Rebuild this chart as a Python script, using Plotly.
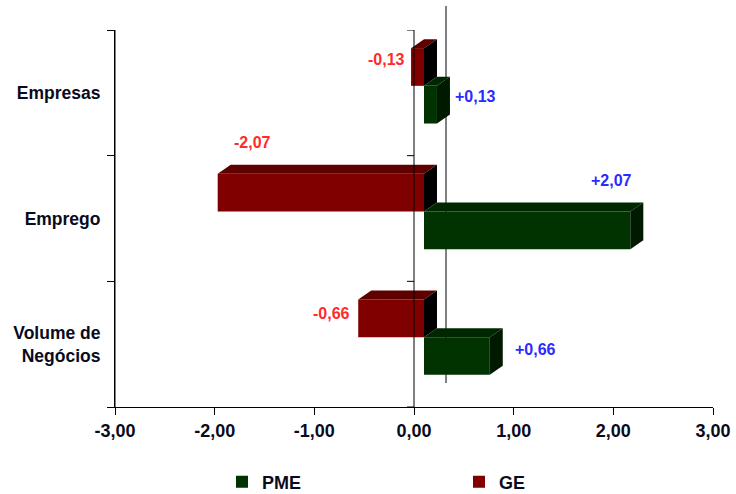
import plotly.graph_objects as go

# ---------------- data ----------------
categories = ["Empresas", "Emprego", "Volume de<br>Negócios"]
pme_values = [0.13, 2.07, 0.66]
ge_values = [-0.13, -2.07, -0.66]
pme_labels = ["+0,13", "+2,07", "+0,66"]
ge_labels = ["-0,13", "-2,07", "-0,66"]
x_ticks = [-3, -2, -1, 0, 1, 2, 3]

# ---------------- layout / style ----------------
W, H = 736, 494
FRONT_W, FRONT_H = 598, 377
ML, MT = 115, 30
MR, MB = W - ML - FRONT_W, H - MT - FRONT_H
SHIFT_X, SHIFT_Y = 10, 7      # bar plane offset from the front plane (px)
DEPTH_X, DEPTH_Y = 13, 9      # depth of a bar (px)
BACK_X, BACK_Y = 32, 24       # back wall offset (px)
FONT = "Liberation Sans, Arial, sans-serif"

GE_COL = dict(front="#800000", top="#5e0000", side="#000000")
PME_COL = dict(front="#003300", top="#002800", side="#001a00")
GE_TXT, PME_TXT = "#ff2b2b", "#2b2bff"

BAR_W = 0.3
# label placement per bar: (xanchor, xshift, yshift)
ge_label_pos = [("right", -4, 7), ("center", 35, 50), ("right", -6, 5)]
pme_label_pos = [("left", 16, 8), ("center", -19, 50), ("left", 23, 7)]

xr = [x_ticks[0], x_ticks[-1]]
n = len(categories)
pos = list(range(n))
yr = [n - 0.5, -0.5]
px_x = FRONT_W / (xr[1] - xr[0])
px_y = FRONT_H / n
dx = DEPTH_X / px_x
dy = DEPTH_Y / px_y
sx = SHIFT_X / px_x
sy = SHIFT_Y / px_y
xr_bar = [xr[0] - sx, xr[1] - sx]
yr_bar = [yr[0] + sy, yr[1] + sy]

fig = go.Figure()


def add_series(name, values, offset, cols, rank):
    fig.add_trace(go.Bar(
        name=name, y=pos, x=values, base=0, orientation="h",
        width=BAR_W, offset=offset, marker=dict(color=cols["front"], line=dict(width=0)),
        xaxis="x2", yaxis="y2", legendrank=rank, hoverinfo="skip"))
    for p, v in zip(pos, values):
        y0 = p + offset          # top edge (reversed axis)
        y1 = y0 + BAR_W          # bottom edge
        xmin, xmax = min(0, v), max(0, v)
        fig.add_trace(go.Scatter(
            x=[xmin, xmin + dx, xmax + dx, xmax, xmin],
            y=[y0, y0 - dy, y0 - dy, y0, y0],
            fill="toself", fillcolor=cols["top"], mode="lines",
            line=dict(width=0, color=cols["top"]), showlegend=False,
            hoverinfo="skip", xaxis="x2", yaxis="y2"))
        fig.add_trace(go.Scatter(
            x=[xmax, xmax + dx, xmax + dx, xmax, xmax],
            y=[y0, y0 - dy, y1 - dy, y1, y0],
            fill="toself", fillcolor=cols["side"], mode="lines",
            line=dict(width=0, color=cols["side"]), showlegend=False,
            hoverinfo="skip", xaxis="x2", yaxis="y2"))


add_series("GE", ge_values, -BAR_W, GE_COL, 2)
add_series("PME", pme_values, 0, PME_COL, 1)

annotations = []
for vals, labs, lpos, off, col in [(ge_values, ge_labels, ge_label_pos, -BAR_W, GE_TXT),
                                   (pme_values, pme_labels, pme_label_pos, 0, PME_TXT)]:
    for p, v, t, (xa, xs, ys) in zip(pos, vals, labs, lpos):
        annotations.append(dict(
            x=v, y=p + off + BAR_W / 2, xref="x2", yref="y2", text=t,
            showarrow=False, xanchor=xa, yanchor="middle", xshift=xs, yshift=ys,
            font=dict(family=FONT, size=16, color=col, weight="bold")))

boundaries = [p - 0.5 for p in pos] + [pos[-1] + 0.5]
x_ticktext = [f"{v:.2f}".replace(".", ",") for v in x_ticks]

line_style = dict(color="#000000", width=1)
shapes = [
    # back wall zero line
    dict(type="line", xref="x", x0=BACK_X, x1=BACK_X, xsizemode="pixel", xanchor=0,
         yref="paper", ysizemode="pixel", yanchor=0, y0=BACK_Y, y1=BACK_Y + FRONT_H,
         layer="below", line=line_style),
    # front left axis line
    dict(type="line", xref="paper", x0=0, x1=0, yref="paper", y0=0, y1=1,
         layer="above", line=line_style),
    # front zero axis line
    dict(type="line", xref="x", x0=0, x1=0, yref="paper", y0=0, y1=1,
         layer="above", line=line_style),
]
for b in boundaries:
    shapes.append(dict(type="line", xref="x", xsizemode="pixel", xanchor=0, x0=-7, x1=0,
                       yref="y", y0=b, y1=b, layer="above", line=line_style))

fig.update_layout(
    width=W, height=H,
    margin=dict(l=ML, r=MR, t=MT, b=MB, autoexpand=False),
    paper_bgcolor="white", plot_bgcolor="white",
    barmode="overlay",
    font=dict(family=FONT, size=18, color="#000000", weight="bold"),
    xaxis=dict(range=xr, tickvals=x_ticks, ticktext=x_ticktext,
               tickfont=dict(size=18, color="#0a0a1e"), ticklabeloverflow="allow",
               showline=True, linecolor="#000000", linewidth=1, ticks="outside",
               ticklen=7, tickcolor="#000000", showgrid=False, zeroline=False,
               anchor="y", fixedrange=True),
    yaxis=dict(range=yr, tickvals=pos, ticktext=categories,
               tickfont=dict(size=17.5, color="#0a0a1e"),
               showline=True, linecolor="#000000", linewidth=1, ticks="",
               ticklabelstandoff=10,
               minor=dict(tickmode="array", tickvals=boundaries, ticks="outside",
                          ticklen=7, tickcolor="#000000", showgrid=False),
               showgrid=False, zeroline=False, anchor="x", fixedrange=True),
    xaxis2=dict(range=xr_bar, overlaying="x", anchor="y2", visible=False, fixedrange=True),
    yaxis2=dict(range=yr_bar, overlaying="y", anchor="x2", visible=False, fixedrange=True),
    shapes=shapes,
    annotations=annotations,
    showlegend=True,
    legend=dict(orientation="h", x=(222 - ML) / FRONT_W, xanchor="left",
                y=(FRONT_H + MT - 482) / FRONT_H, yanchor="middle",
                entrywidth=192, entrywidthmode="pixels", traceorder="normal",
                font=dict(family=FONT, size=18, color="#0a0a1e", weight="bold"),
                itemwidth=30, bgcolor="rgba(0,0,0,0)"),
)

# remove the default page margin so the figure fills the window exactly
fig.write_html("out.html",
               config={"displayModeBar": False, "staticPlot": False},
               post_script="document.body.style.margin='0px';document.body.style.overflow='hidden';")
